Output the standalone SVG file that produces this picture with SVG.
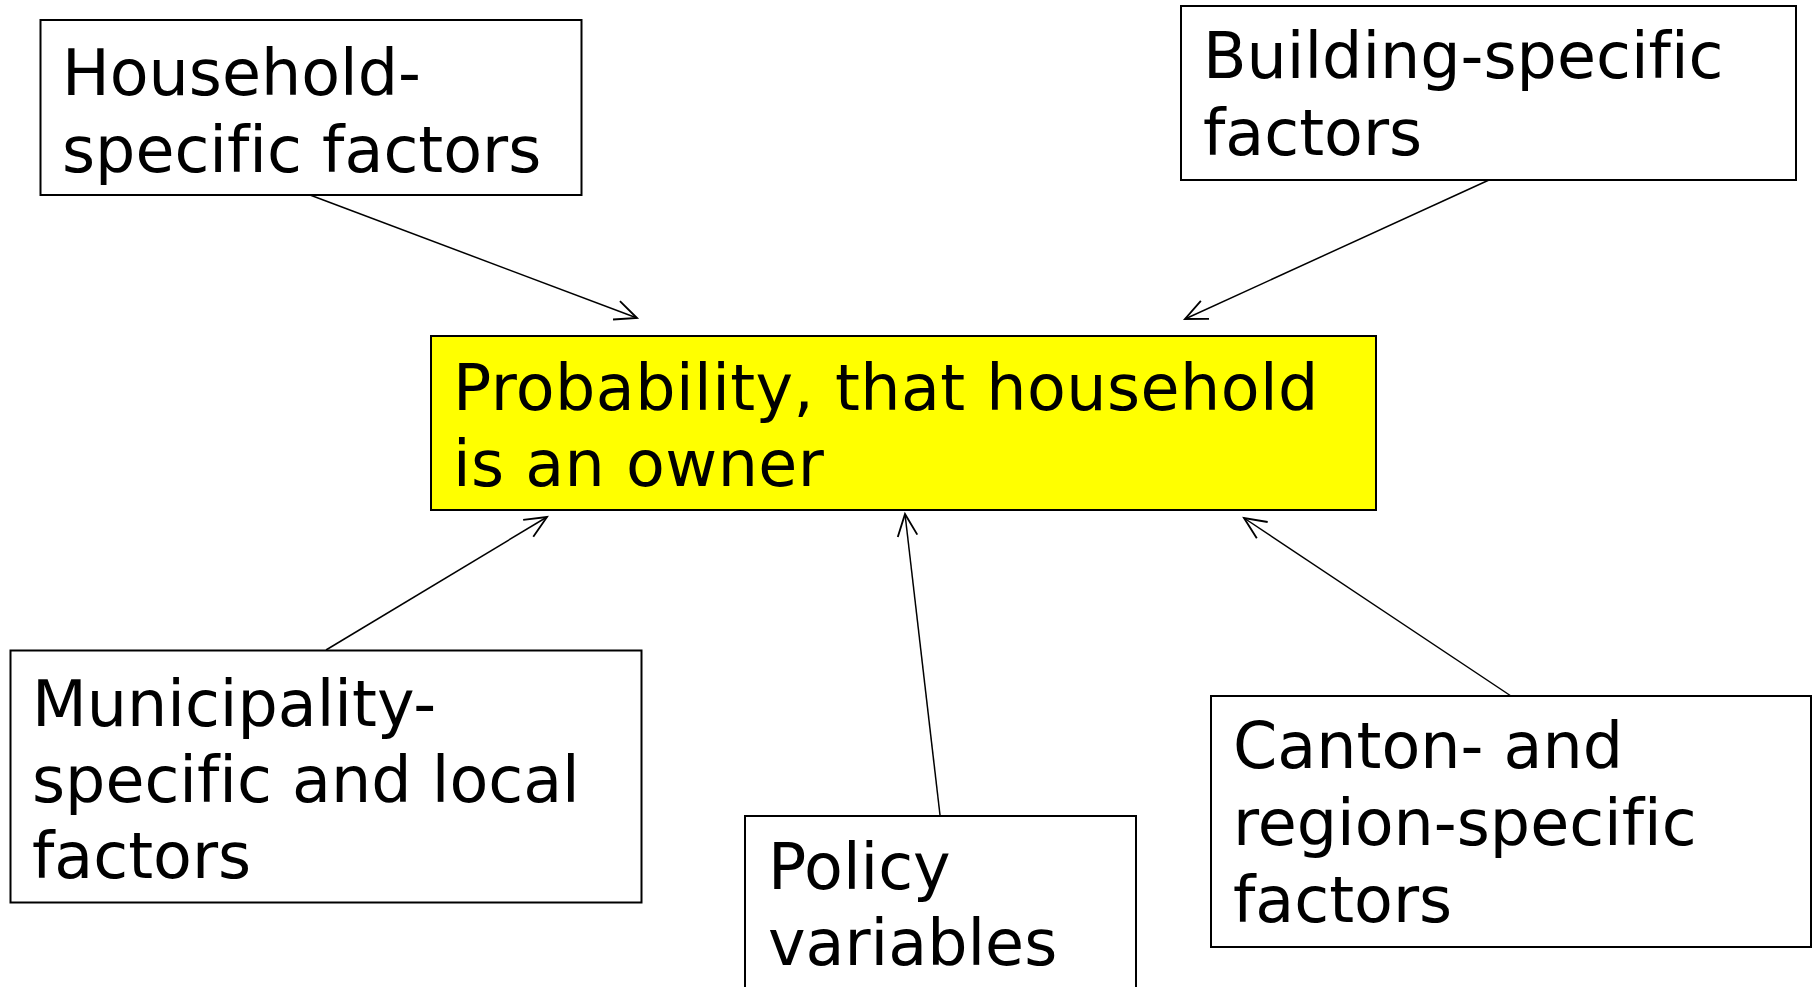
<svg xmlns="http://www.w3.org/2000/svg" width="1815" height="987" viewBox="0 0 1815 987">
<style>
.box{fill:#ffffff;stroke:#000000;stroke-width:2}
.main{fill:#ffff00;stroke:#000000;stroke-width:2}
.lbl{font-family:"DejaVu Sans","Liberation Sans",sans-serif;font-size:63.5px;fill:#000000;font-variant-ligatures:none;font-feature-settings:"liga" 0}
.conn{stroke:#000000;stroke-width:1.5;fill:none;marker-end:url(#arr)}
</style>
<defs>
<marker id="arr" markerUnits="userSpaceOnUse" markerWidth="30" markerHeight="30" viewBox="-22 -12 26 24" refX="0" refY="0" orient="auto">
<path d="M-19,-8.5 L0,0 L-19,8.5" fill="none" stroke="#000000" stroke-width="1.6"/>
</marker>
</defs>
<rect width="1815" height="987" fill="#ffffff"/>
<g id="connectors">
<line class="conn" x1="310" y1="195" x2="637" y2="318"/>
<line class="conn" x1="1489" y1="180" x2="1185" y2="319"/>
<line class="conn" x1="326" y1="650" x2="547" y2="517"/>
<line class="conn" x1="940" y1="815" x2="905" y2="514"/>
<line class="conn" x1="1511" y1="696" x2="1244" y2="518"/>
</g>
<g id="household">
<rect class="box" x="40.5" y="20" width="541" height="175"/>
<text class="lbl" x="62" y="95">Household-</text>
<text class="lbl" x="62" y="172">specific factors</text>
</g>
<g id="building">
<rect class="box" x="1181" y="6" width="615" height="174"/>
<text class="lbl" x="1203" y="78">Building-specific</text>
<text class="lbl" x="1203" y="155">factors</text>
</g>
<g id="probability">
<rect class="main" x="431" y="336" width="945" height="174"/>
<text class="lbl" x="453" y="410" letter-spacing="0.45">Probability, that household</text>
<text class="lbl" x="453" y="486" letter-spacing="0.45">is an owner</text>
</g>
<g id="municipality">
<rect class="box" x="10.5" y="650.5" width="631" height="252"/>
<text class="lbl" x="32" y="726">Municipality-</text>
<text class="lbl" x="32" y="802">specific and local</text>
<text class="lbl" x="32" y="878">factors</text>
</g>
<g id="policy">
<rect class="box" x="745" y="816" width="391" height="200"/>
<text class="lbl" x="768" y="889">Policy</text>
<text class="lbl" x="768" y="965">variables</text>
</g>
<g id="canton">
<rect class="box" x="1211" y="696" width="600" height="251"/>
<text class="lbl" x="1233" y="768">Canton- and</text>
<text class="lbl" x="1233" y="845">region-specific</text>
<text class="lbl" x="1233" y="922">factors</text>
</g>
</svg>
